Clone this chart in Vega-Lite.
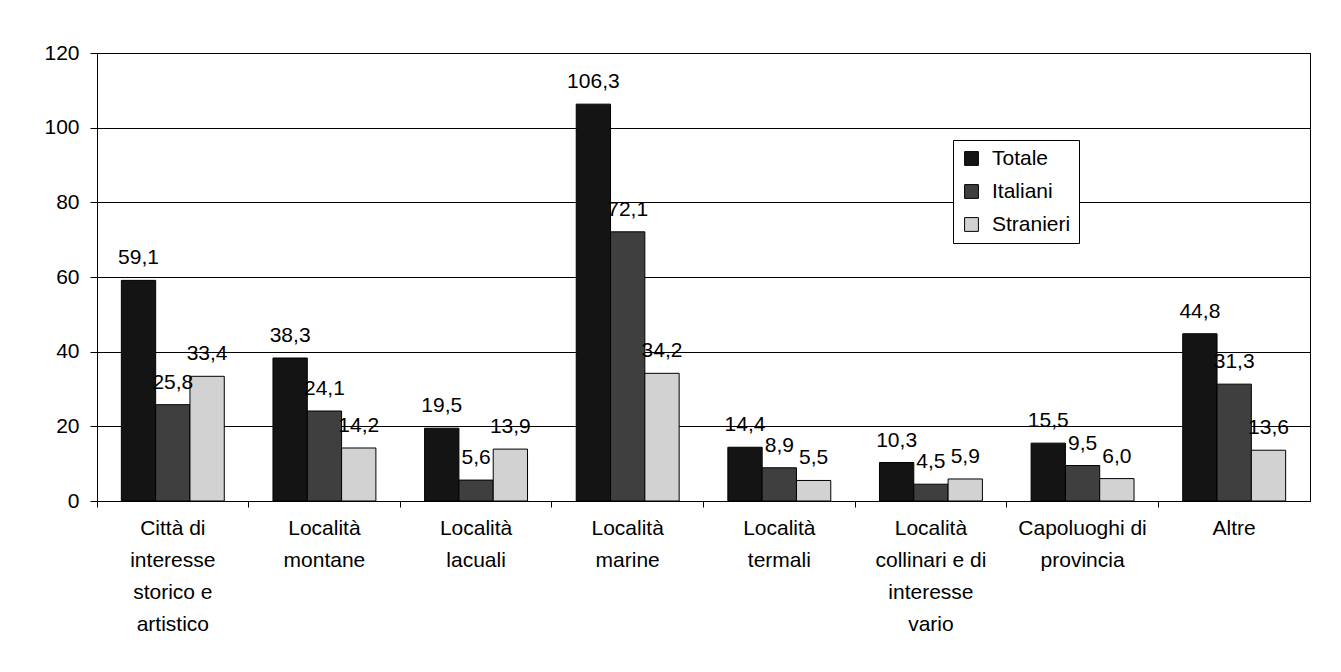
{
  "$schema": "https://vega.github.io/schema/vega-lite/v6.json",
  "width": 1213,
  "height": 448,
  "autosize": {"type": "none"},
  "padding": {"left": 97, "top": 53, "right": 31, "bottom": 171},
  "background": "white",
  "config": {
    "locale": {"number": {"decimal": ",", "thousands": ".", "grouping": [3], "currency": ["€", ""]}},
    "view": {"stroke": "black", "strokeWidth": 1},
    "font": "Liberation Sans"
  },
  "data": {
    "values": [
      {"cat": "Città di|interesse|storico e|artistico", "serie": "Totale", "v": 59.1},
      {"cat": "Città di|interesse|storico e|artistico", "serie": "Italiani", "v": 25.8},
      {"cat": "Città di|interesse|storico e|artistico", "serie": "Stranieri", "v": 33.4},
      {"cat": "Località|montane", "serie": "Totale", "v": 38.3},
      {"cat": "Località|montane", "serie": "Italiani", "v": 24.1},
      {"cat": "Località|montane", "serie": "Stranieri", "v": 14.2},
      {"cat": "Località|lacuali", "serie": "Totale", "v": 19.5},
      {"cat": "Località|lacuali", "serie": "Italiani", "v": 5.6},
      {"cat": "Località|lacuali", "serie": "Stranieri", "v": 13.9},
      {"cat": "Località|marine", "serie": "Totale", "v": 106.3},
      {"cat": "Località|marine", "serie": "Italiani", "v": 72.1},
      {"cat": "Località|marine", "serie": "Stranieri", "v": 34.2},
      {"cat": "Località|termali", "serie": "Totale", "v": 14.4},
      {"cat": "Località|termali", "serie": "Italiani", "v": 8.9},
      {"cat": "Località|termali", "serie": "Stranieri", "v": 5.5},
      {"cat": "Località|collinari e di|interesse|vario", "serie": "Totale", "v": 10.3},
      {"cat": "Località|collinari e di|interesse|vario", "serie": "Italiani", "v": 4.5},
      {"cat": "Località|collinari e di|interesse|vario", "serie": "Stranieri", "v": 5.9},
      {"cat": "Capoluoghi di|provincia", "serie": "Totale", "v": 15.5},
      {"cat": "Capoluoghi di|provincia", "serie": "Italiani", "v": 9.5},
      {"cat": "Capoluoghi di|provincia", "serie": "Stranieri", "v": 6.0},
      {"cat": "Altre", "serie": "Totale", "v": 44.8},
      {"cat": "Altre", "serie": "Italiani", "v": 31.3},
      {"cat": "Altre", "serie": "Stranieri", "v": 13.6}
    ]
  },
  "encoding": {
    "x": {
      "field": "cat", "type": "nominal", "sort": null,
      "scale": {"paddingInner": 0, "paddingOuter": 0},
      "axis": {
        "title": null, "labelExpr": "split(datum.label, '|')",
        "labelFontSize": 21, "labelLineHeight": 32, "labelAngle": 0,
        "labelBaseline": "top", "labelAlign": "center",
        "tickSize": 6, "bandPosition": 0, "labelPadding": 10,
        "domainColor": "black", "tickColor": "black", "labelColor": "black", "grid": false
      }
    },
    "xOffset": {
      "field": "serie", "type": "nominal", "sort": ["Totale", "Italiani", "Stranieri"],
      "scale": {"paddingInner": 0, "paddingOuter": 0.71}
    },
    "y": {
      "field": "v", "type": "quantitative",
      "scale": {"domain": [0, 120]},
      "axis": {
        "title": null, "values": [0, 20, 40, 60, 80, 100, 120], "format": "d",
        "labelFontSize": 21, "labelColor": "black", "tickSize": 7, "labelPadding": 11,
        "domainColor": "black", "tickColor": "black",
        "grid": true, "gridColor": "black", "gridOpacity": 1, "gridWidth": 1
      }
    }
  },
  "layer": [
    {
      "mark": {"type": "bar", "stroke": "black", "strokeWidth": 1},
      "encoding": {
        "color": {
          "field": "serie", "type": "nominal",
          "scale": {"domain": ["Totale", "Italiani", "Stranieri"], "range": ["#141414", "#3f3f3f", "#d2d2d2"]},
          "legend": {
            "orient": "none", "legendX": 856, "legendY": 87, "title": null,
            "symbolType": "square", "symbolSize": 190, "symbolStrokeColor": "black", "symbolStrokeWidth": 1,
            "labelFontSize": 21, "labelColor": "black", "rowPadding": 11, "labelOffset": 10,
            "strokeColor": "black", "fillColor": "white", "padding": 8
          }
        }
      }
    },
    {
      "mark": {"type": "text", "baseline": "bottom", "dy": -12, "fontSize": 21, "color": "black"},
      "encoding": {"text": {"field": "v", "type": "quantitative", "format": ".1f"}}
    }
  ]
}
